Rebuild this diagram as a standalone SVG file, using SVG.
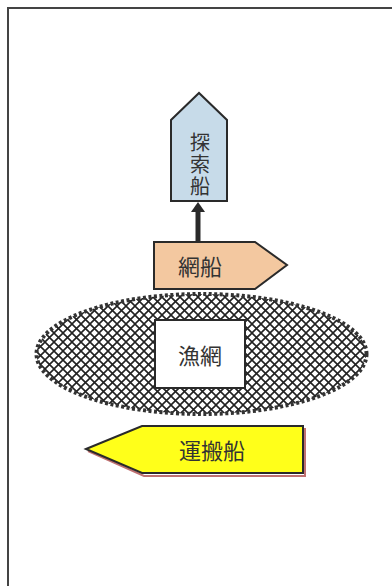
<svg xmlns="http://www.w3.org/2000/svg" width="392" height="586" viewBox="0 0 392 586">
<defs>
<style>
.lbl{font-family:"Noto Sans CJK JP","Noto Sans CJK SC",sans-serif;font-size:22px;fill:#333;text-anchor:middle;dominant-baseline:central}
.vlbl{font-family:"Noto Sans CJK JP","Noto Sans CJK SC",sans-serif;font-size:20px;fill:#333;writing-mode:vertical-rl;text-anchor:middle;letter-spacing:2px}
.shape{stroke:#2a2a2a;stroke-width:2;stroke-linejoin:miter}
</style>
<pattern id="hatch" patternUnits="userSpaceOnUse" width="9" height="9">
<path d="M0,0 L9,9 M9,0 L0,9" stroke="#222" stroke-width="1.6"/>
</pattern>
</defs>
<rect width="392" height="586" fill="#fff"/>
<g id="frame">
<path d="M392,8 L8,8 L8,586" fill="none" stroke="#444" stroke-width="2"/>
</g>
<g id="net">
<ellipse cx="201.5" cy="354" rx="165" ry="60" fill="url(#hatch)" stroke="#333" stroke-width="4" stroke-dasharray="3 2.5"/>
</g>
<g id="connectors">
<line x1="198" y1="242" x2="198" y2="211" stroke="#2a2a2a" stroke-width="5"/>
<path d="M191,212 L198,202 L205,212 Z" fill="#2a2a2a"/>
</g>
<g id="probe">
<path class="shape" d="M171,201 L171,120 L199,93 L227,120 L227,201 Z" fill="#c7dbe9"/>
<text class="vlbl" x="200" y="165">探索船</text>
</g>
<g id="netboat">
<path class="shape" d="M154,242 L255,242 L287,265 L255,289 L154,289 Z" fill="#f3c8a0"/>
<text class="lbl" x="200" y="265">網船</text>
</g>
<g id="fishnet">
<rect class="shape" x="155" y="320" width="90" height="68" fill="#fff"/>
<text class="lbl" x="200" y="354">漁網</text>
</g>
<g id="carrier">
<path d="M88,451 L144,476 L305,476 L305,428" fill="none" stroke="#c07070" stroke-width="2"/>
<path class="shape" d="M86,449 L142,426 L303,426 L303,473 L142,473 Z" fill="#ffff1a"/>
<text class="lbl" x="212" y="449">運搬船</text>
</g>
</svg>
